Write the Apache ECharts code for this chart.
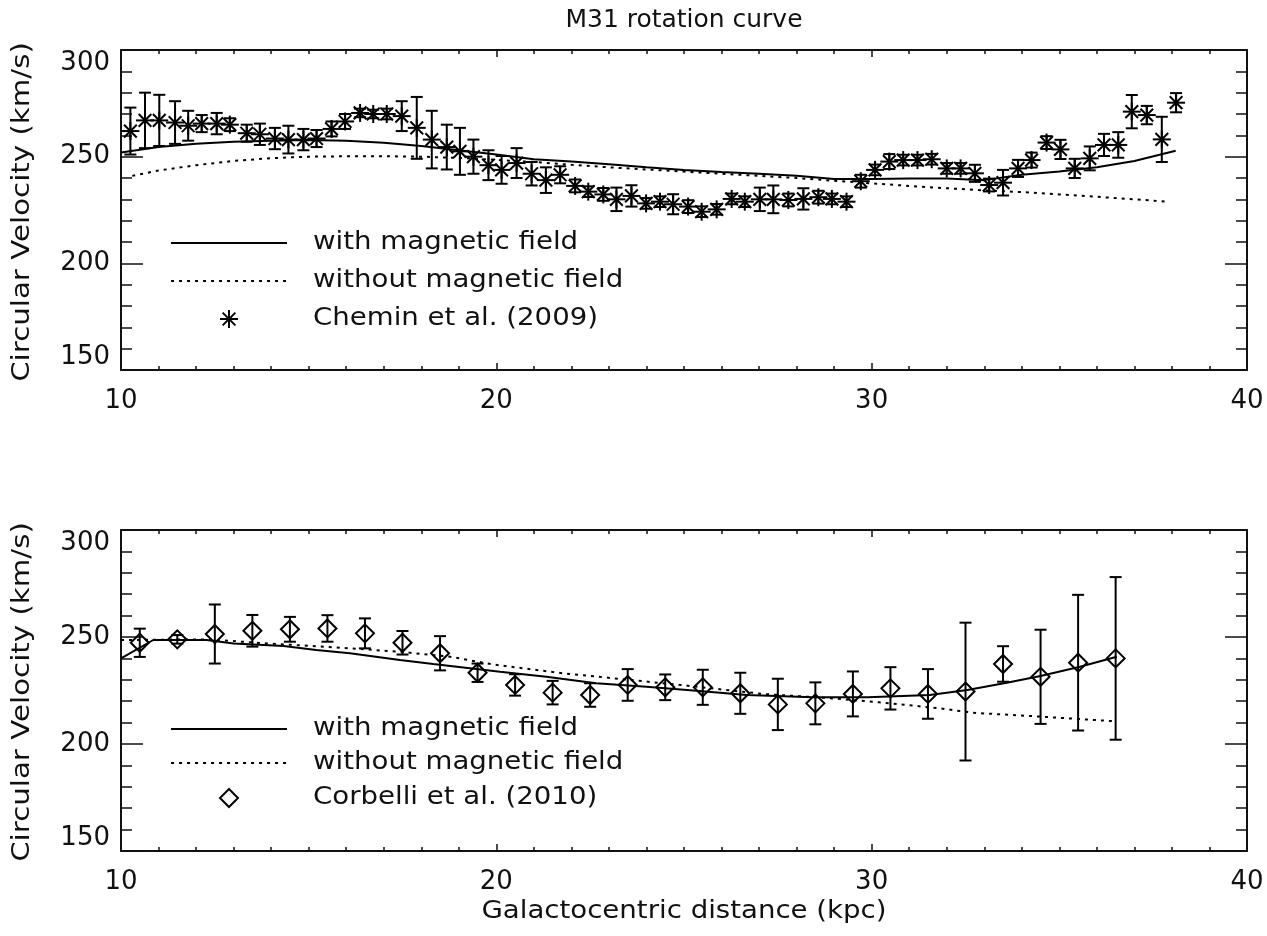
<!DOCTYPE html>
<html>
<head>
<meta charset="utf-8">
<script src="https://cdn.jsdelivr.net/npm/echarts@6/dist/echarts.min.js"></script>
<style>
html, body { margin: 0; padding: 0; background: #fff; }
#chart { width: 1267px; height: 936px; }
</style>
</head>
<body>
<div id="chart"></div>
<script>
// ---- data ----
// Chemin et al. (2009): radius (kpc), velocity (km/s), error
const cheminR = [10.25, 10.64, 11.02, 11.44, 11.79, 12.15, 12.55, 12.9, 13.35, 13.7,
    14.1, 14.46, 14.86, 15.21, 15.61, 15.97, 16.37, 16.72, 17.08, 17.48,
    17.88, 18.28, 18.68, 19.03, 19.39, 19.79, 20.14, 20.54, 20.94, 21.32,
    21.7, 22.1, 22.45, 22.85, 23.2, 23.6, 23.99, 24.36, 24.71, 25.11,
    25.47, 25.87, 26.27, 26.62, 27.02, 27.38, 27.78, 28.18, 28.58, 28.94,
    29.33, 29.71, 30.09, 30.47, 30.84, 31.22, 31.6, 32.0, 32.37, 32.75,
    33.13, 33.5, 33.9, 34.26, 34.66, 35.03, 35.41, 35.81, 36.19, 36.57,
    36.93, 37.33, 37.73, 38.11];
const cheminV = [262, 267, 267, 266, 264.5, 265.5, 265.5, 265, 261, 260.5,
    258.5, 258, 258, 258.5, 263, 266.5, 270.5, 270, 270, 269,
    263.5, 258, 254.5, 252.5, 250, 246, 243.8, 247, 242, 239,
    241.5, 236.3, 233.6, 232.3, 230, 231.6, 228.1, 228.9, 227.7, 226.6,
    224.2, 225.3, 230.2, 228.9, 230, 230, 229.7, 230.2, 231, 230.2,
    228.9, 238.5, 243.8, 247.7, 248.4, 248.4, 248.8, 244.5, 244.5, 242.2,
    236.7, 237.8, 244.5, 248.4, 256.6, 253.4, 244.5, 249.2, 255.5, 255.5,
    271.1, 269.5, 258.1, 275.3];
const cheminErr = [11, 13, 12, 10, 7, 4, 5, 3, 4, 5,
    5, 6.5, 5, 4, 3.5, 3.5, 2, 2, 2.5, 7,
    14.5, 13.5, 10.5, 11, 8, 7, 6.5, 7, 5.5, 6,
    4, 3, 2.5, 3, 5.5, 5, 2.5, 2.5, 4.7, 3,
    2.5, 2.5, 2.5, 2.5, 5.5, 6.5, 3, 5, 3, 2.5,
    2.5, 3, 2.5, 3.5, 2.5, 2.5, 2.5, 2.5, 2.5, 4,
    3, 6, 4, 3.5, 3, 4.5, 4.5, 5.6, 5.2, 6,
    7.8, 4.3, 10.6, 4.5];

// Corbelli et al. (2010)
const corbR = [10.5, 11.5, 12.5, 13.5, 14.5, 15.5, 16.5, 17.5, 18.5, 19.5,
    20.5, 21.5, 22.5, 23.5, 24.5, 25.5, 26.5, 27.5, 28.5, 29.5,
    30.5, 31.5, 32.5, 33.5, 34.5, 35.5, 36.5];
const corbV = [247.3, 248.9, 251.4, 252.9, 253.6, 254, 251.7, 247.3, 242.4, 233.3,
    227.6, 224, 222.9, 227.6, 226.5, 226.5, 223.7, 218.5, 219, 223.4,
    226, 223.4, 224.5, 237.4, 231.4, 238, 240];
const corbErr = [6.6, 2, 13.8, 7.4, 5.8, 6.2, 7, 5.5, 8, 4.3,
    5, 5.5, 5.5, 7.4, 6, 8.2, 9.6, 12, 9.8, 10.5,
    9.9, 11.6, 32.2, 8.3, 22, 31.7, 38];

// model curves, top panel
const topWithR = [10.0, 11, 12, 13, 14, 15, 16, 17, 18, 19, 20, 21, 22, 23, 24, 25, 26, 27, 28, 29, 30, 31, 32, 33, 34, 35, 36, 37, 38.1];
const topWithV = [252, 254.5, 256, 257, 257.5, 257.8, 257.5, 256.5, 255, 253, 251, 248.8, 247.7, 246.5, 245, 243.7, 242.8, 242, 241, 239.5, 239.5, 239.8, 239.8, 239, 241.5, 243, 245, 248, 252.8];
const topWithoutR = [10.3, 11, 12, 13, 14, 15, 16, 17, 18, 19, 20, 21, 22, 23, 24, 25, 26, 27, 28, 29, 30, 31, 32, 33, 34, 35, 36, 37, 37.9];
const topWithoutV = [241, 243.5, 246, 248, 249.3, 250, 250.2, 250.2, 250, 249.4, 248.5, 247.5, 246.2, 245, 244, 243, 242, 241, 240, 238.7, 237.5, 236.3, 235.2, 234.2, 233.4, 232.3, 231.2, 230, 228.9];

// model curves, bottom panel
const botWithR = [10.0, 10.86, 12.28, 13.0, 14.33, 15.2, 16.1, 17.43, 18.32, 20.1, 21.33, 22.66, 24.0, 25.33, 26.67, 28.44, 29.9, 31.55, 32.55, 33.6, 34.5, 35.55, 36.53];
const botWithV = [240, 248.6, 248.6, 247, 245.8, 243.9, 242.4, 239.3, 237.4, 233.8, 231.4, 228.4, 226.8, 224.9, 222.9, 221.8, 221.8, 222.9, 225.2, 228.6, 231.8, 236.1, 240.8];
const botWithoutR = [10.0, 12.3, 13.9, 15.85, 17.43, 18.77, 19.9, 21.8, 23.13, 24.9, 27.1, 28.9, 30.2, 31.8, 32.7, 34.5, 36.4];
const botWithoutV = [248.6, 248.9, 247, 245, 243.1, 240.8, 237.2, 233, 230.7, 227.6, 223.4, 221.4, 219.5, 216.7, 214.6, 212.8, 210.7];

const xTicks = [10, 20, 30, 40];
const yTicks = [150, 200, 250, 300];

const FONT = 'DejaVu Sans';
const INK = '#111';

function pairs(xs, ys) {
    return xs.map((x, i) => [x, ys[i]]);
}
function triples(xs, ys, es) {
    return xs.map((x, i) => [x, ys[i], es[i]]);
}

function xAxisFor(grid, pos, labels) {
    return {
        type: 'value', gridIndex: grid, position: pos,
        min: xTicks[0], max: xTicks[xTicks.length - 1], interval: xTicks[1] - xTicks[0],
        axisLine: { show: true, onZero: false, lineStyle: { color: INK, width: 2 } },
        axisTick: { show: true, inside: true, length: 7, lineStyle: { color: INK, width: 1.5 } },
        minorTick: { show: true, splitNumber: 10, length: 4, lineStyle: { color: INK, width: 1.5 } },
        splitLine: { show: false },
        axisLabel: { show: labels, margin: 18, fontFamily: FONT, fontSize: 26, color: INK }
    };
}
function yAxisFor(grid, pos, labels) {
    return {
        type: 'value', gridIndex: grid, position: pos,
        min: yTicks[0], max: yTicks[yTicks.length - 1], interval: yTicks[1] - yTicks[0],
        axisLine: { show: true, onZero: false, lineStyle: { color: INK, width: 2 } },
        axisTick: { show: true, inside: true, length: 22, lineStyle: { color: INK, width: 1.5 } },
        minorTick: { show: true, splitNumber: 5, length: 11, lineStyle: { color: INK, width: 1.5 } },
        splitLine: { show: false },
        axisLabel: {
            show: labels, margin: 11, fontFamily: FONT, fontSize: 26, color: INK,
            verticalAlignMinLabel: 'bottom', verticalAlignMaxLabel: 'top'
        }
    };
}

const stroke = { stroke: '#000', lineWidth: 2, fill: null };

function errorBar(c, hi, lo) {
    return [
        { type: 'line', shape: { x1: c[0], y1: hi[1], x2: c[0], y2: lo[1] }, style: stroke },
        { type: 'line', shape: { x1: c[0] - 6, y1: hi[1], x2: c[0] + 6, y2: hi[1] }, style: stroke },
        { type: 'line', shape: { x1: c[0] - 6, y1: lo[1], x2: c[0] + 6, y2: lo[1] }, style: stroke }
    ];
}
function asterisk(cx, cy, r) {
    const d = r * 0.7071;
    return [
        { type: 'line', shape: { x1: cx - r, y1: cy, x2: cx + r, y2: cy }, style: stroke },
        { type: 'line', shape: { x1: cx, y1: cy - r, x2: cx, y2: cy + r }, style: stroke },
        { type: 'line', shape: { x1: cx - d, y1: cy - d, x2: cx + d, y2: cy + d }, style: stroke },
        { type: 'line', shape: { x1: cx - d, y1: cy + d, x2: cx + d, y2: cy - d }, style: stroke }
    ];
}
function diamond(cx, cy, r) {
    return [{ type: 'polygon', shape: { points: [[cx, cy - r], [cx + r, cy], [cx, cy + r], [cx - r, cy]] }, style: stroke }];
}

function renderPoints(markFn) {
    return function (params, api) {
        const x = api.value(0), v = api.value(1), e = api.value(2);
        const c = api.coord([x, v]);
        const hi = api.coord([x, v + e]);
        const lo = api.coord([x, v - e]);
        return { type: 'group', children: errorBar(c, hi, lo).concat(markFn(c[0], c[1])) };
    };
}

// stretched text to get close to the wide plotter font of the original
function label(x, y, t, align, sx) {
    return {
        type: 'text', x: x, y: y, scaleX: sx || 1.15,
        style: { text: t, font: '24px "DejaVu Sans"', fill: INK, align: align || 'left', verticalAlign: 'middle' }
    };
}

function legend(rows, markFn, name) {
    return [
        { type: 'line', shape: { x1: 171, y1: rows[0], x2: 287, y2: rows[0] }, style: { stroke: '#000', lineWidth: 2 } },
        label(313, rows[0], 'with magnetic field'),
        { type: 'line', shape: { x1: 171, y1: rows[1], x2: 287, y2: rows[1] }, style: { stroke: '#000', lineWidth: 2, lineDash: [3, 5] } },
        label(313, rows[1], 'without magnetic field'),
        { type: 'group', children: markFn(229, rows[2]) },
        label(313, rows[2], name)
    ];
}

const chart = echarts.init(document.getElementById('chart'));

const lineSeries = (name, xi, yi, data, dashed) => ({
    name: name, type: 'line', xAxisIndex: xi, yAxisIndex: yi, data: data,
    showSymbol: false, symbol: 'none', smooth: false, z: 2,
    lineStyle: { color: '#000', width: 2, type: dashed ? [3, 5] : 'solid' }
});

const yTitle = (cy) => ({
    type: 'text', x: 23, y: cy, rotation: Math.PI / 2, scaleX: 1.22,
    style: { text: 'Circular Velocity (km/s)', font: '24px "DejaVu Sans"', fill: INK, align: 'center', verticalAlign: 'middle' }
});

const option = {
    animation: false,
    backgroundColor: '#fff',
    grid: [
        { left: 121, top: 50, width: 1126, height: 320 },
        { left: 121, top: 530, width: 1126, height: 321 }
    ],
    xAxis: [xAxisFor(0, 'bottom', true), xAxisFor(0, 'top', false), xAxisFor(1, 'bottom', true), xAxisFor(1, 'top', false)],
    yAxis: [yAxisFor(0, 'left', true), yAxisFor(0, 'right', false), yAxisFor(1, 'left', true), yAxisFor(1, 'right', false)],
    series: [
        lineSeries('with magnetic field', 0, 0, pairs(topWithR, topWithV), false),
        lineSeries('without magnetic field', 0, 0, pairs(topWithoutR, topWithoutV), true),
        {
            name: 'Chemin et al. (2009)', type: 'custom', xAxisIndex: 0, yAxisIndex: 0,
            data: triples(cheminR, cheminV, cheminErr), encode: { x: 0, y: 1 },
            renderItem: renderPoints((x, y) => asterisk(x, y, 9)), z: 3
        },
        lineSeries('with magnetic field', 2, 2, pairs(botWithR, botWithV), false),
        lineSeries('without magnetic field', 2, 2, pairs(botWithoutR, botWithoutV), true),
        {
            name: 'Corbelli et al. (2010)', type: 'custom', xAxisIndex: 2, yAxisIndex: 2,
            data: triples(corbR, corbV, corbErr), encode: { x: 0, y: 1 },
            renderItem: renderPoints((x, y) => diamond(x, y, 9)), z: 3
        }
    ],
    graphic: [
        label(684, 21, 'M31 rotation curve', 'center', 1.04),
        yTitle(212),
        yTitle(692),
        label(684, 912, 'Galactocentric distance (kpc)', 'center')
    ].concat(legend([243, 281, 319], (x, y) => asterisk(x, y, 9), 'Chemin et al. (2009)'))
     .concat(legend([729, 763, 798], (x, y) => diamond(x, y, 9), 'Corbelli et al. (2010)'))
};

chart.setOption(option);
</script>
</body>
</html>
